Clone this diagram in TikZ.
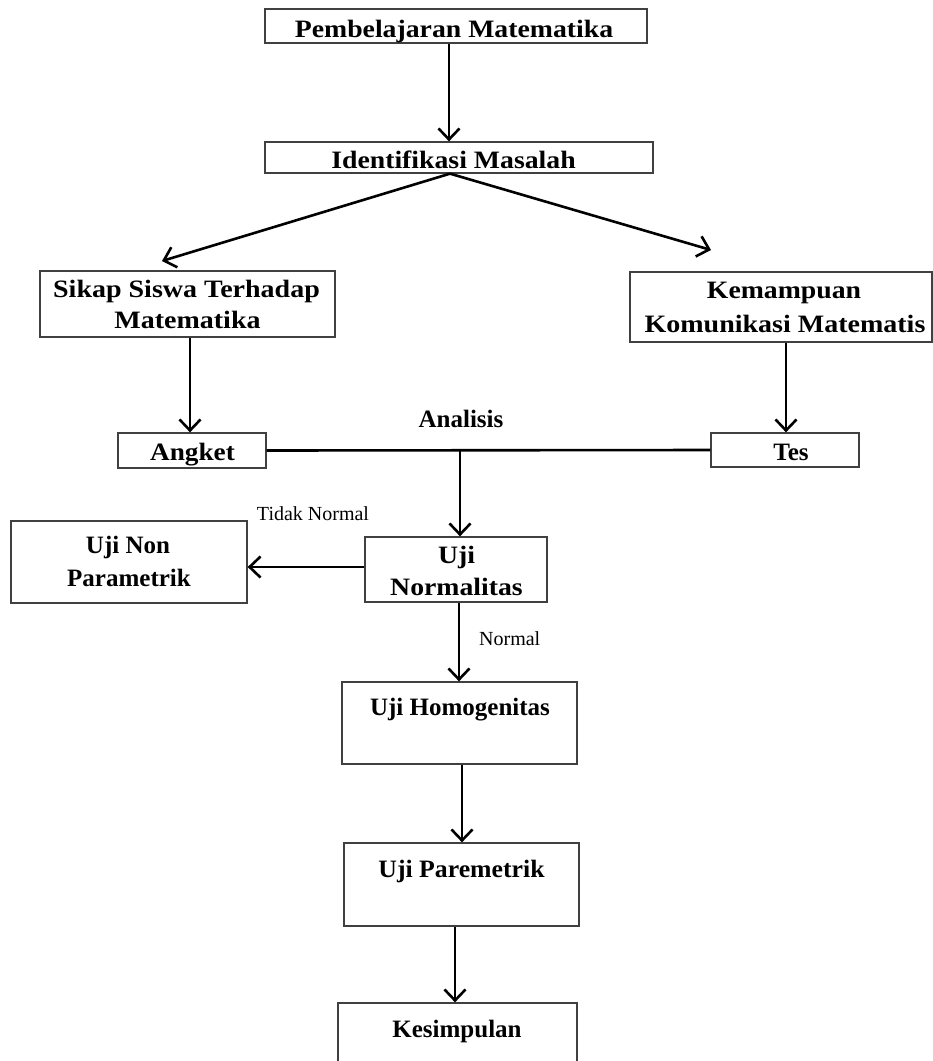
\documentclass[tikz,border=0pt]{standalone}
\usepackage{fontspec}
\setmainfont{Liberation Serif}
\usetikzlibrary{arrows.meta}
\newcommand{\hsx}[2]{\scalebox{#1}[1]{#2}}
\begin{document}
\begin{tikzpicture}[x=1pt,y=-1pt,
  box/.style={draw=black!75,line width=1.3pt,rectangle,inner sep=0pt},
  lbl/.style={inner sep=0pt,anchor=base,font=\fontsize{25}{31}\selectfont\bfseries},
  small/.style={inner sep=0pt,font=\fontsize{20}{24}\selectfont},
  arr/.style={line width=2.6pt,-{Straight Barb[length=11pt,width=21pt,line width=2.6pt]}},
  ln/.style={line width=2.6pt}]
\useasboundingbox (0,0) rectangle (933,1061);
% boxes
\node[box,minimum width=382pt,minimum height=34pt] (pem) at (456,26) {};
\node[box,minimum width=388pt,minimum height=31pt] (ide) at (459,157.5) {};
\node[box,minimum width=295pt,minimum height=66pt] (sik) at (187.5,304) {};
\node[box,minimum width=302pt,minimum height=70pt] (kem) at (781,307) {};
\node[box,minimum width=148pt,minimum height=35pt] (ang) at (192,450.5) {};
\node[box,minimum width=148pt,minimum height=34pt] (tes) at (785,450) {};
\node[box,minimum width=236pt,minimum height=82pt] (non) at (129,562) {};
\node[box,minimum width=182pt,minimum height=65pt] (nor) at (456,569.5) {};
\node[box,minimum width=235pt,minimum height=82pt] (hom) at (459.5,723) {};
\node[box,minimum width=235pt,minimum height=83pt] (par) at (461.5,884.5) {};
\node[box,minimum width=239pt,minimum height=80pt] (kes) at (457.5,1043) {};
% texts
\node[lbl] (pemt) at (454,37) {\hsx{1.11}{Pembelajaran Matematika}};
\node[lbl] (idet) at (453.5,168) {\hsx{1.11}{Identifikasi Masalah}};
\node[lbl] (sikt1) at (186.5,297) {\hsx{1.12}{Sikap Siswa Terhadap}};
\node[lbl] (sikt2) at (187.5,328) {\hsx{1.12}{Matematika}};
\node[lbl] (kemt1) at (784,298) {\hsx{1.11}{Kemampuan}};
\node[lbl] (kemt2) at (785,332) {\hsx{1.12}{Komunikasi Matematis}};
\node[lbl] (angt) at (192.5,460) {\hsx{1.09}{Angket}};
\node[lbl] (test) at (791,460) {Tes};
\node[lbl] (nont1) at (128,553) {Uji Non};
\node[lbl] (nont2) at (129,586) {Parametrik};
\node[lbl] (nort1) at (456.5,563) {\hsx{1.11}{Uji}};
\node[lbl] (nort2) at (456.5,595) {\hsx{1.11}{Normalitas}};
\node[lbl] (homt) at (460,715) {Uji Homogenitas};
\node[lbl] (part) at (461.5,877) {\hsx{1.03}{Uji Paremetrik}};
\node[lbl] (kest) at (457,1037) {Kesimpulan};
\node[lbl] (ana) at (461,427) {Analisis};
\node[small,anchor=base] (tn) at (313,520) {Tidak Normal};
\node[small,anchor=base west] (nm) at (479,645) {Normal};
% coordinates
\coordinate (x1) at (449,0);
\coordinate (apx) at (450,0);
\coordinate (lt) at (162,261);
\coordinate (rt) at (711,250);
\coordinate (x2) at (190,0);
\coordinate (x3) at (786,0);
\coordinate (x4) at (460,0);
\coordinate (jn) at (460,450);
\coordinate (y1) at (0,567);
\coordinate (x5) at (459,0);
\coordinate (x6) at (462,0);
\coordinate (x7) at (455,0);
% connectors
\draw[arr] (pem.south -| x1) -- (ide.north -| x1);
\draw[arr] (ide.south -| apx) -- (lt);
\draw[arr] (ide.south -| apx) -- (rt);
\draw[arr] (sik.south -| x2) -- (ang.north -| x2);
\draw[arr] (kem.south -| x3) -- (tes.north -| x3);
\draw[ln] (ang.east) -- (tes.west);
\draw[arr] (jn) -- (nor.north -| x4);
\draw[arr] (nor.west |- y1) -- (non.east |- y1);
\draw[arr] (nor.south -| x5) -- (hom.north -| x5);
\draw[arr] (hom.south -| x6) -- (par.north -| x6);
\draw[arr] (par.south -| x7) -- (kes.north -| x7);
\end{tikzpicture}
\end{document}
